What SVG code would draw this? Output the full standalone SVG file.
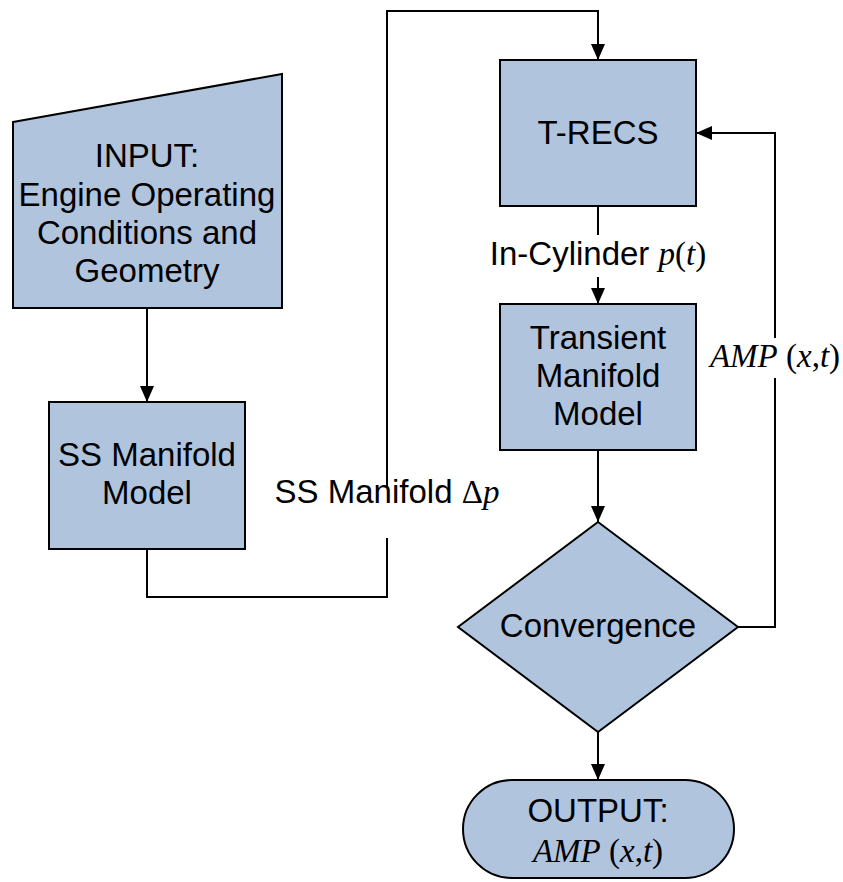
<svg xmlns="http://www.w3.org/2000/svg" width="843" height="882" viewBox="0 0 843 882">
<defs>
<style>
.node{fill:#b0c4de;stroke:#000;stroke-width:2}
.t{font-family:"Liberation Sans",Arial,sans-serif;font-size:33px;fill:#000;text-anchor:middle}
.m{font-family:"Liberation Serif","Times New Roman",serif;font-size:33px;fill:#000}
.i{font-style:italic}
.c{fill:none;stroke:#000;stroke-width:2}
</style>
<marker id="ah" markerUnits="userSpaceOnUse" markerWidth="18" markerHeight="16" refX="16" refY="7" orient="auto">
<path d="M0,0 L16,7 L0,14 Z" fill="#000"/>
</marker>
</defs>
<rect width="843" height="882" fill="#fff"/>
<g id="connectors">
<path class="c" d="M147,308 V402" marker-end="url(#ah)"/>
<path class="c" d="M147,549 V597 H387 V538"/>
<path class="c" d="M387,488 V11 H598 V60" marker-end="url(#ah)"/>
<path class="c" d="M598,206 V235"/>
<path class="c" d="M598,277 V304" marker-end="url(#ah)"/>
<path class="c" d="M598,450 V522" marker-end="url(#ah)"/>
<path class="c" d="M738,627 H775 V378"/>
<path class="c" d="M775,338 V133 H696" marker-end="url(#ah)"/>
<path class="c" d="M598,732 V780" marker-end="url(#ah)"/>
</g>
<g id="labels">
<text x="598" y="265" class="t"><tspan>In-Cylinder </tspan><tspan class="m i">p</tspan><tspan class="m">(</tspan><tspan class="m i">t</tspan><tspan class="m">)</tspan></text>
<text x="775" y="367" class="m" text-anchor="middle"><tspan class="i">AMP</tspan> (<tspan class="i">x</tspan>,<tspan class="i">t</tspan>)</text>
<text x="387" y="503" class="t"><tspan>SS Manifold </tspan><tspan class="m">Δ</tspan><tspan class="m i">p</tspan></text>
</g>
<g id="input">
<polygon class="node" points="13,122 282,74 282,308 13,308"/>
<text class="t" x="147"><tspan x="147" y="167">INPUT:</tspan><tspan x="147" y="206">Engine Operating</tspan><tspan x="147" y="244">Conditions and</tspan><tspan x="147" y="282">Geometry</tspan></text>
</g>
<g id="ss-manifold">
<rect class="node" x="49" y="402" width="196" height="147"/>
<text class="t"><tspan x="147" y="466">SS Manifold</tspan><tspan x="147" y="504">Model</tspan></text>
</g>
<g id="t-recs">
<rect class="node" x="500" y="60" width="196" height="146"/>
<text class="t" x="598" y="144">T-RECS</text>
</g>
<g id="transient">
<rect class="node" x="500" y="304" width="196" height="146"/>
<text class="t"><tspan x="598" y="349">Transient</tspan><tspan x="598" y="387">Manifold</tspan><tspan x="598" y="425">Model</tspan></text>
</g>
<g id="convergence">
<polygon class="node" points="598,522 738,627 598,732 458,627"/>
<text class="t" x="598" y="637">Convergence</text>
</g>
<g id="output">
<rect class="node" x="463" y="780" width="271" height="98" rx="49" ry="49"/>
<text class="t" x="598" y="822">OUTPUT:</text>
<text class="m" x="598" y="862" text-anchor="middle"><tspan class="i">AMP</tspan> (<tspan class="i">x</tspan>,<tspan class="i">t</tspan>)</text>
</g>
</svg>
